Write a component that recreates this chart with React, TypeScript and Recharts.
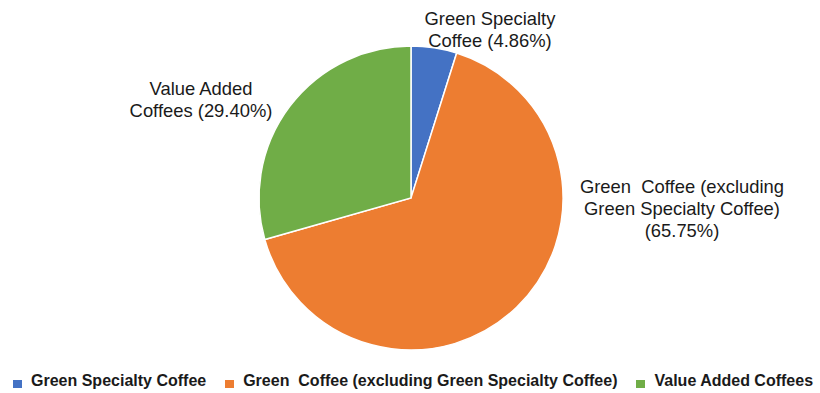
import React from 'react';
import { PieChart, Pie, Cell, Legend } from 'recharts';

const categories = [
  'Green Specialty Coffee',
  'Green  Coffee (excluding Green Specialty Coffee)',
  'Value Added Coffees',
];
const shares = [4.86, 65.75, 29.4];
const labelLines = [
  ['Green Specialty', 'Coffee (4.86%)'],
  ['Green  Coffee (excluding', 'Green Specialty Coffee)', '(65.75%)'],
  ['Value Added', 'Coffees (29.40%)'],
];
const colors = ['#4472C4', '#ED7D31', '#70AD47'];

// label anchor offsets (first line centre) relative to the pie centre (layout, not data)
const labelOffsets = [
  { dx: 79, dy: -180 },
  { dx: 271, dy: -12 },
  { dx: -210, dy: -110 },
];

const data = categories.map((name, i) => ({ name, value: shares[i] }));

const FONT = '"Liberation Sans", Arial, sans-serif';

const renderLabel = (props: any) => {
  const { cx, cy, index } = props;
  const off = labelOffsets[index];
  const lines = labelLines[index];
  const lh = 22;
  const x = cx + off.dx;
  const y0 = cy + off.dy;
  return (
    <text
      x={x}
      y={y0}
      textAnchor="middle"
      fill="#1a1a1a"
      fontSize={18.4}
      fontFamily={FONT}
      style={{ whiteSpace: 'pre' }}
      xmlSpace="preserve"
    >
      {lines.map((l, k) => (
        <tspan key={k} x={x} y={y0 + k * lh} dominantBaseline="central">
          {l}
        </tspan>
      ))}
    </text>
  );
};

const LegendContent = () => (
  <div
    style={{
      display: 'flex',
      justifyContent: 'flex-start',
      alignItems: 'center',
      fontFamily: FONT,
      fontWeight: 'bold',
      fontSize: 16,
      lineHeight: '20px',
      color: '#1a1a1a',
      whiteSpace: 'pre',
      paddingLeft: 13,
    }}
  >
    {categories.map((c, i) => (
      <div key={i} style={{ display: 'flex', alignItems: 'center', marginLeft: i === 0 ? 0 : 19 }}>
        <span
          style={{
            width: 9,
            height: 8,
            background: colors[i],
            display: 'inline-block',
            marginRight: 9,
            position: 'relative',
            top: 3,
          }}
        />
        <span>{c}</span>
      </div>
    ))}
  </div>
);

export default function App() {
  return (
    <div style={{ position: 'absolute', left: 0, top: 0, width: 820, height: 393, background: '#fff' }}>
      <PieChart width={820} height={393} margin={{ top: 0, right: 0, bottom: 0, left: 0 }}>
        <Pie
          data={data}
          dataKey="value"
          nameKey="name"
          cx={411}
          cy={198}
          outerRadius={152}
          startAngle={90}
          endAngle={-270}
          stroke="#ffffff"
          strokeWidth={1.5}
          label={renderLabel}
          labelLine={false}
          isAnimationActive={false}
        >
          {data.map((d, i) => (
            <Cell key={i} fill={colors[i]} />
          ))}
        </Pie>
        <Legend
          verticalAlign="bottom"
          content={<LegendContent />}
          wrapperStyle={{ top: 371, left: 0, width: 820 }}
        />
      </PieChart>
    </div>
  );
}
